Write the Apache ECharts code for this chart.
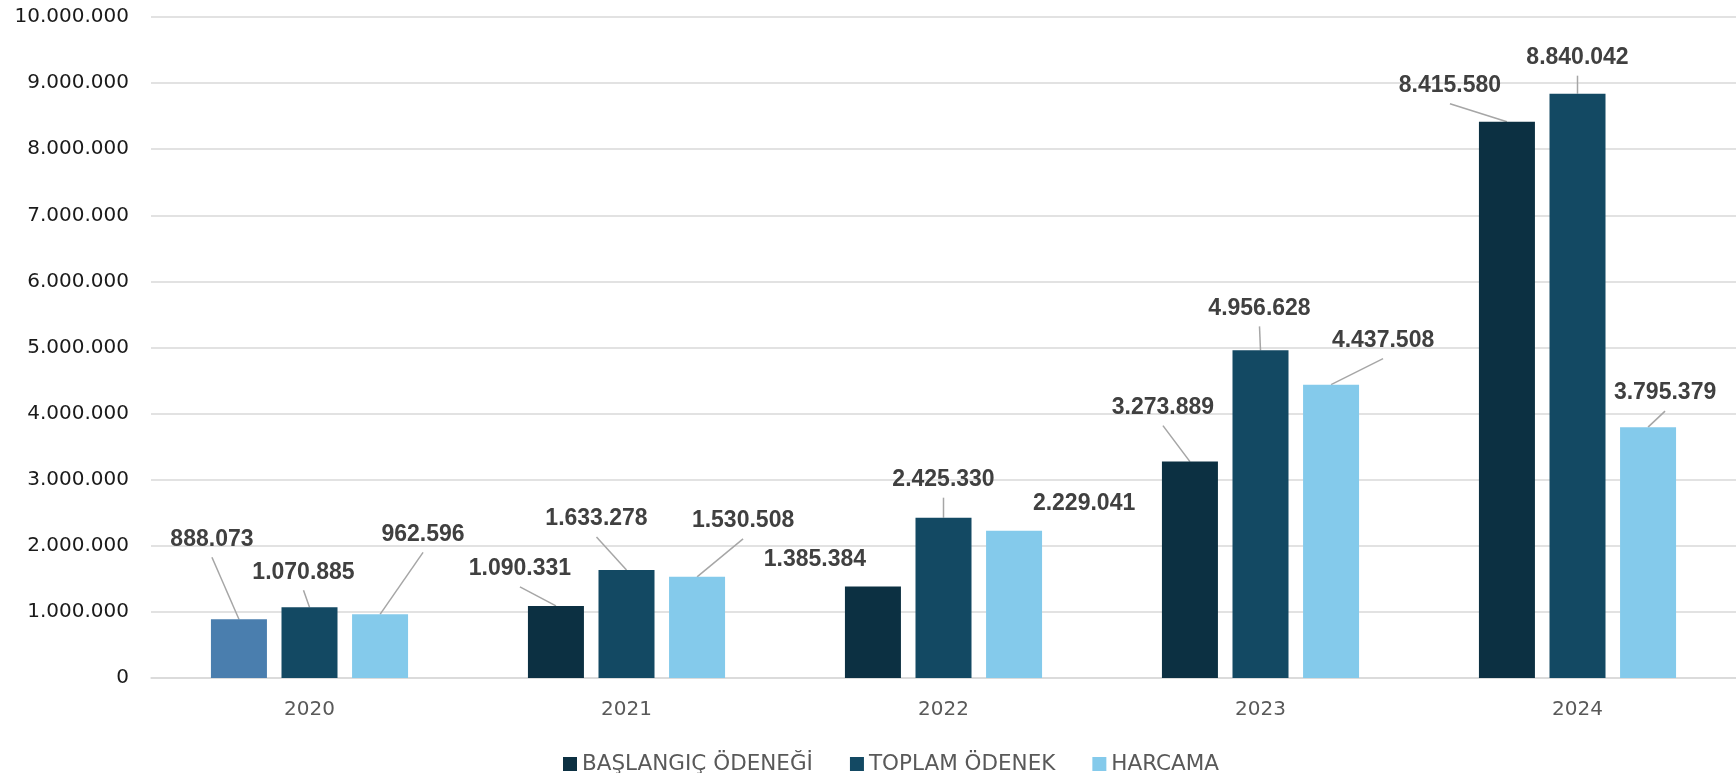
<!DOCTYPE html>
<html>
<head>
<meta charset="utf-8">
<script src="https://cdn.jsdelivr.net/npm/echarts@6/dist/echarts.min.js"></script>
<style>
  html, body { margin: 0; padding: 0; background: #fff; }
  #main { width: 1736px; height: 773px; }
</style>
</head>
<body>
<div id="main"></div>
<script>
// yillar ve seriler
var years = ['2020', '2021', '2022', '2023', '2024'];
var baslangic = [888073, 1090331, 1385384, 3273889, 8415580];
var toplam = [1070885, 1633278, 2425330, 4956628, 8840042];
var harcama = [962596, 1530508, 2229041, 4437508, 3795379];
var yTicks = [0, 1000000, 10000000]; // min, interval, max

// etiket kaydirmalari (bar tepesinin ortasina gore, px)
var shiftBas = [[-27, -80], [-36, -37], [-58, -27], [-27, -54], [-57, -36]];
var shiftTop = [[-6, -35], [-30, -51], [0, -38], [-1, -42], [0, -36]];
var shiftHar = [[43, -80], [46, -56], [70, -27], [52, -44], [17, -34]];
var shifts = [shiftBas, shiftTop, shiftHar];

function fmt(v) {
    return String(v).replace(/\B(?=(\d{3})+(?!\d))/g, '.');
}

var labelStyle = {
    show: true,
    position: ['50%', 0],
    align: 'center',
    verticalAlign: 'middle',
    formatter: function (p) { return fmt(p.value); },
    fontFamily: 'Liberation Sans',
    fontWeight: 'bold',
    fontSize: 23,
    color: '#404040'
};

function items(values, sh) {
    return values.map(function (v, i) {
        return { value: v, label: { offset: sh[i] } };
    });
}

var basItems = items(baslangic, shiftBas);
basItems[0].itemStyle = { color: '#4a7eae' };

var chart = echarts.init(document.getElementById('main'));
chart.setOption({
    animation: false,
    grid: { left: 151, right: -14, top: 17, bottom: 95 },
    legend: {
        top: 748,
        left: 558,
        icon: 'rect',
        itemWidth: 14,
        itemHeight: 14,
        itemGap: 37,
        textStyle: { fontFamily: 'DejaVu Sans', fontSize: 21.5, color: '#595959' }
    },
    xAxis: {
        type: 'category',
        data: years,
        axisTick: { show: false },
        axisLine: { lineStyle: { color: '#d9d9d9', width: 1.5 } },
        axisLabel: { margin: 22, fontFamily: 'DejaVu Sans', fontSize: 20, color: '#595959' }
    },
    yAxis: {
        type: 'value',
        min: yTicks[0],
        interval: yTicks[1],
        max: yTicks[2],
        axisLabel: { margin: 22, fontFamily: 'DejaVu Sans', fontSize: 20, color: '#1a1a1a', formatter: fmt },
        splitLine: { lineStyle: { color: '#d9d9d9', width: 1.5 } }
    },
    series: [
        {
            name: 'BAŞLANGIÇ ÖDENEĞİ', type: 'bar', barWidth: 56, barGap: '26%',
            itemStyle: { color: '#0c3042' },
            data: basItems,
            label: labelStyle
        },
        {
            name: 'TOPLAM ÖDENEK', type: 'bar', barWidth: 56, barGap: '26%',
            itemStyle: { color: '#134963' },
            data: items(toplam, shiftTop),
            label: labelStyle
        },
        {
            name: 'HARCAMA', type: 'bar', barWidth: 56, barGap: '26%',
            itemStyle: { color: '#84caeb' },
            data: items(harcama, shiftHar),
            label: labelStyle
        }
    ]
});

// kilavuz cizgileri: etiketin altindan bar tepesinin ortasina
function drawLeaders() {
    var lines = [];
    shifts.forEach(function (sh, s) {
        var data = chart.getModel().getSeriesByIndex(s).getData();
        sh.forEach(function (o, i) {
            if (Math.abs(o[1]) < 30) return;
            var l = data.getItemLayout(i);
            var cx = l.x + l.width / 2;
            var top = Math.min(l.y, l.y + l.height);
            lines.push({
                type: 'line', silent: true, z: 1,
                shape: { x1: cx + o[0], y1: top + o[1] + 18, x2: cx, y2: top },
                style: { stroke: '#a6a6a6', lineWidth: 1.5 }
            });
        });
    });
    chart.setOption({ graphic: lines });
}
drawLeaders();
</script>
</body>
</html>
